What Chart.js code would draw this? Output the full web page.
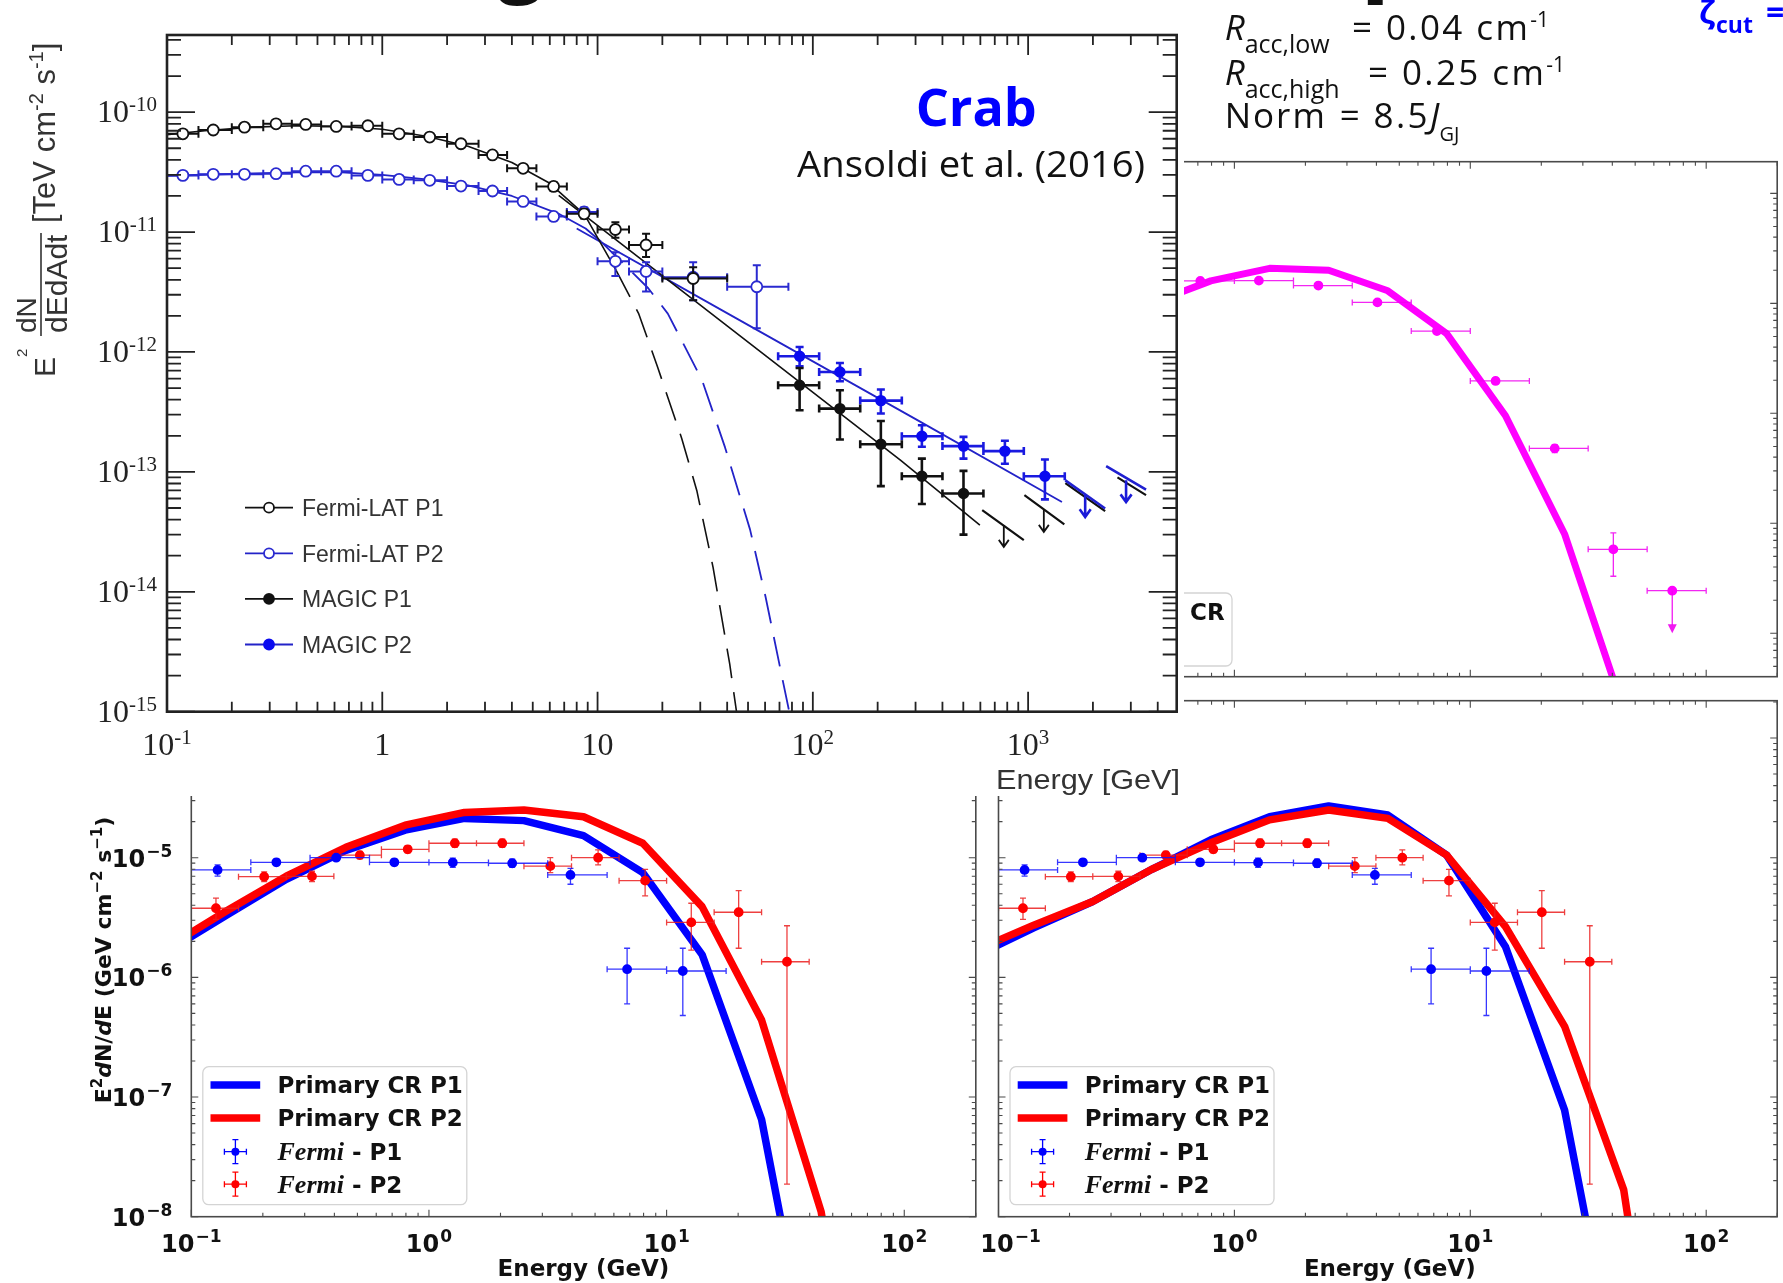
<!DOCTYPE html>
<html lang="en">
<head>
<meta charset="utf-8">
<title>Crab pulsar: measured and modelled gamma-ray spectra</title>
<script src="https://cdn.jsdelivr.net/npm/chart.js@4.4.1/dist/chart.umd.min.js"></script>
<style>
  html, body { margin: 0; padding: 0; background: #fff; }
  body { position: relative; width: 1783px; height: 1283px; overflow: hidden; }
  .panel { position: absolute; }
  .panel canvas { display: block; }
  #crabChart { background: #fff; }
  #labels { position: absolute; left: 0; top: 0; z-index: 3; pointer-events: none; }
</style>
</head>
<body>
<div class="panel" style="left:0;top:690px;z-index:1"><canvas id="leftChart" width="986" height="593"></canvas></div>
<div class="panel" style="left:900px;top:690px;z-index:1"><canvas id="rightChart" width="883" height="593"></canvas></div>
<div class="panel" style="left:900px;top:150px;z-index:1"><canvas id="magentaChart" width="883" height="540"></canvas></div>
<div class="panel" style="left:0;top:0;z-index:2"><canvas id="crabChart" width="1184" height="796"></canvas></div>

<svg id="labels" width="1783" height="1283" viewBox="0 0 1783 1283">
  <g font-family="'Open Sans', sans-serif" font-weight="700" fill="#111">
    <text x="498" y="-13" font-size="80">g</text>
    <text x="1360" y="-19" font-size="100">p</text>
  </g>
  <text x="915.7" y="126" font-family="'Open Sans', sans-serif" font-weight="700" font-size="52" fill="#0000ff">Crab</text>
  <text x="797" y="176.7" font-family="'Open Sans', sans-serif" font-size="37" fill="#111" textLength="348" lengthAdjust="spacingAndGlyphs">Ansoldi et al. (2016)</text>

  <g font-family="'Open Sans', sans-serif" font-size="35" fill="#111">
    <text y="40"><tspan x="1224.7" font-style="italic">R</tspan><tspan font-size="25" dy="13">acc,low</tspan><tspan x="1352" dy="-13" letter-spacing="2.4">= 0.04 cm</tspan><tspan font-size="21" dy="-13">-1</tspan></text>
    <text y="85"><tspan x="1224.7" font-style="italic">R</tspan><tspan font-size="25" dy="13">acc,high</tspan><tspan x="1368" dy="-13" letter-spacing="2.4">= 0.25 cm</tspan><tspan font-size="21" dy="-13">-1</tspan></text>
    <text y="128.3"><tspan x="1224.7" letter-spacing="2">Norm</tspan><tspan x="1339.7" letter-spacing="2.4">= 8.5</tspan><tspan font-style="italic">J</tspan><tspan font-size="20" dy="13">GJ</tspan></text>
  </g>
  <g font-family="'Open Sans', sans-serif" font-weight="700" fill="#0000ff">
    <text x="1699" y="24" font-size="32">ζ</text>
    <text x="1716" y="33" font-size="23">cut</text>
    <text x="1766" y="24" font-size="32">=</text>
  </g>

  <g transform="translate(55,377) rotate(-90)" font-family="'Liberation Sans', Arial, sans-serif" fill="#333">
    <text x="0" y="0" font-size="30">E</text>
    <text x="20" y="-28" font-size="15">2</text>
    <text x="44" y="-19" font-size="28">dN</text>
    <line x1="41" y1="-14" x2="144" y2="-14" stroke="#333" stroke-width="1.6"/>
    <text x="44" y="12" font-size="30">dEdAdt</text>
    <text x="154" y="0" font-size="31">[TeV cm<tspan font-size="20" dy="-12">-2</tspan><tspan dy="12"> s</tspan><tspan font-size="20" dy="-12">-1</tspan><tspan dy="12">]</tspan></text>
  </g>
  <text x="996" y="789" font-family="'Liberation Sans', Arial, sans-serif" font-size="28" fill="#333" textLength="184" lengthAdjust="spacingAndGlyphs">Energy [GeV]</text>

  <g font-family="'DejaVu Sans', sans-serif" font-weight="700" font-size="23" fill="#111" text-anchor="middle">
    <text x="583.5" y="1276">Energy (GeV)</text>
    <text x="1389.8" y="1276">Energy (GeV)</text>
  </g>
  <text transform="translate(111,960) rotate(-90)" text-anchor="middle" font-family="'DejaVu Sans', sans-serif" font-weight="700" font-size="22" fill="#111">E<tspan font-size="15" dy="-9">2</tspan><tspan dy="9" font-style="italic">d</tspan>N/<tspan font-style="italic">d</tspan>E (GeV cm<tspan font-size="15" dy="-9">−2</tspan><tspan dy="9"> s</tspan><tspan font-size="15" dy="-9">−1</tspan><tspan dy="9">)</tspan></text>
</svg>

<script>
// ---------- Crab, Ansoldi et al. (2016): Fermi-LAT + MAGIC, P1 and P2 ----------
const crabXRange = [0.1, 4900];
const crabYRange = [1e-15, 4.4e-10];
const crabXTicks = [0.1, 1, 10, 100, 1000];
const crabXTickLabels = [['10', '-1'], ['1', ''], ['10', ''], ['10', '2'], ['10', '3']];
const crabYTicks = [1e-15, 1e-14, 1e-13, 1e-12, 1e-11, 1e-10];
const crabYTickLabels = [['10', '-15'], ['10', '-14'], ['10', '-13'], ['10', '-12'], ['10', '-11'], ['10', '-10']];
const crabLegend = ['Fermi-LAT P1', 'Fermi-LAT P2', 'MAGIC P1', 'MAGIC P2'];

const fermiEdges = [0.1, 0.14, 0.2, 0.28, 0.38, 0.52, 0.72, 1.0, 1.4, 2.0, 2.8, 3.8, 5.2, 7.2, 10, 14, 20, 40, 77];
const fermiEnergy = [0.1185, 0.164, 0.229, 0.321, 0.441, 0.611, 0.857, 1.197, 1.66, 2.32, 3.25, 4.51, 6.25, 8.66, 12.1, 16.8, 27.8, 54.9];
const fermiP1Flux = [6.6e-11, 7.1e-11, 7.5e-11, 8.0e-11, 7.9e-11, 7.6e-11, 7.7e-11, 6.6e-11, 6.2e-11, 5.45e-11, 4.4e-11, 3.4e-11, 2.4e-11, 1.42e-11, 1.05e-11, 7.8e-12, 4.1e-12];
const fermiP1Low = [6.35e-11, 6.85e-11, 7.25e-11, 7.75e-11, 7.65e-11, 7.35e-11, 7.45e-11, 6.35e-11, 5.95e-11, 5.2e-11, 4.2e-11, 3.2e-11, 2.2e-11, 1.3e-11, 8.97e-12, 6.2e-12, 2.7e-12];
const fermiP1High = [6.85e-11, 7.35e-11, 7.75e-11, 8.25e-11, 8.15e-11, 7.85e-11, 7.95e-11, 6.85e-11, 6.45e-11, 5.7e-11, 4.6e-11, 3.6e-11, 2.6e-11, 1.55e-11, 1.21e-11, 9.7e-12, 5.1e-12];
const fermiP2Flux = [2.97e-11, 3.03e-11, 3.03e-11, 3.07e-11, 3.22e-11, 3.22e-11, 2.97e-11, 2.75e-11, 2.7e-11, 2.42e-11, 2.2e-11, 1.8e-11, 1.35e-11, 1.47e-11, 5.7e-12, 4.7e-12, 4.2e-12, 3.5e-12];
const fermiP2Low = [2.87e-11, 2.93e-11, 2.93e-11, 2.97e-11, 3.11e-11, 3.11e-11, 2.87e-11, 2.65e-11, 2.6e-11, 2.33e-11, 2.1e-11, 1.7e-11, 1.25e-11, 1.35e-11, 4.3e-12, 3.2e-12, 2.7e-12, 1.58e-12];
const fermiP2High = [3.07e-11, 3.13e-11, 3.13e-11, 3.17e-11, 3.33e-11, 3.33e-11, 3.07e-11, 2.85e-11, 2.8e-11, 2.51e-11, 2.3e-11, 1.9e-11, 1.45e-11, 1.6e-11, 6.8e-12, 5.6e-12, 5.6e-12, 5.3e-12];

const magicEdges = [69, 107, 166, 259, 400, 620, 955, 1480];
const magicEnergy = [86.8, 133.6, 207, 321, 501, 780, 1197];
const magicP1Flux = [5.28e-13, 3.37e-13, 1.70e-13, 9.2e-14, 6.6e-14];
const magicP1Low = [3.27e-13, 1.86e-13, 7.6e-14, 5.4e-14, 3.0e-14];
const magicP1High = [7.36e-13, 4.8e-13, 2.66e-13, 1.29e-13, 1.02e-13];
const magicP2Flux = [9.2e-13, 6.8e-13, 3.93e-13, 1.98e-13, 1.64e-13, 1.49e-13, 9.2e-14];
const magicP2Low = [7.6e-13, 5.7e-13, 3.07e-13, 1.62e-13, 1.29e-13, 1.17e-13, 5.9e-14];
const magicP2High = [1.1e-12, 8.1e-13, 4.86e-13, 2.45e-13, 1.96e-13, 1.82e-13, 1.27e-13];

// upper limits: bin [lo, hi], flux at the bin ends, arrows [energy, from, tip]
const ulP1Bins = [[612, 955], [961, 1473], [1489, 2279], [2600, 3530]];
const ulP1Ends = [[4.8e-14, 2.7e-14], [6.4e-14, 3.65e-14], [8.05e-14, 4.7e-14], [9.0e-14, 6.4e-14]];
const ulP1Arrows = [[771, 3.6e-14, 2.37e-14], [1183, 4.8e-14, 3.16e-14]];
const ulP2Bins = [[1489, 2279], [2304, 3530]];
const ulP2Ends = [[8.5e-14, 4.95e-14], [1.115e-13, 7.1e-14]];
const ulP2Arrows = [[1841, 6.4e-14, 4.2e-14], [2851, 8.5e-14, 5.6e-14]];

// fitted curves: exponential cut-off (dashed past the Fermi range) and power laws
const blackCutoffEnergy = [0.1, 0.15, 0.25, 0.4, 0.65, 1.0, 1.6, 2.5, 4.0, 6.0, 8.7, 12.2, 15.5, 19, 24.6, 28.9, 34.4, 41.1, 44.2];
const blackCutoffFlux = [6.5e-11, 7.0e-11, 7.5e-11, 7.7e-11, 7.6e-11, 7.2e-11, 6.3e-11, 5.2e-11, 3.8e-11, 2.55e-11, 1.4e-11, 4.8e-12, 2.1e-12, 7.5e-13, 1.9e-13, 7.0e-14, 1.6e-14, 2.5e-15, 1.0e-15];
const blueCutoffEnergy = [0.1, 0.2, 0.4, 0.65, 1.0, 1.6, 2.5, 4.0, 6.6, 8.8, 10.4, 17.2, 21.2, 30.6, 39.1, 51.1, 60.3, 71.3, 77.7];
const blueCutoffFlux = [2.95e-11, 3.05e-11, 3.15e-11, 3.15e-11, 3.0e-11, 2.75e-11, 2.45e-11, 2.0e-11, 1.42e-11, 1.07e-11, 8.3e-12, 3.4e-12, 2.09e-12, 5.8e-13, 1.6e-13, 3.3e-14, 9.1e-15, 2.1e-15, 1.0e-15];
const blackPowerEnergy = [6.6, 256, 597];
const blackPowerFlux = [2.02e-11, 1.25e-13, 3.6e-14];
const bluePowerEnergy = [8.0, 39, 306, 1436];
const bluePowerFlux = [1.07e-11, 2.16e-12, 2.7e-13, 5.6e-14];

// ---------- model panels (primary CR, P1 / P2) ----------
const panelXRange = [0.1, 200];
const panelYRange = [1e-8, 2.05e-4];
const panelXTicks = [0.1, 1, 10, 100];
const panelXExponents = ['−1', '0', '1', '2'];
const panelYTicks = [1e-8, 1e-7, 1e-6, 1e-5];
const panelYExponents = ['−8', '−7', '−6', '−5'];
const modelLegend = ['Primary CR P1', 'Primary CR P2'];
const dataLegend = [['Fermi', ' - P1'], ['Fermi', ' - P2']];

const modelEnergy = [0.0794, 0.141, 0.251, 0.447, 0.794, 1.41, 2.51, 4.47, 7.94, 14.1, 25.1, 44.7, 79.4];
const leftP1Model = [1.65e-6, 3.32e-6, 6.6e-6, 1.15e-5, 1.7e-5, 2.13e-5, 2.04e-5, 1.53e-5, 7.5e-6, 1.55e-6, 6.5e-8, 1.7e-10, 1e-12];
const leftP2Model = [1.8e-6, 3.6e-6, 7.0e-6, 1.22e-5, 1.87e-5, 2.39e-5, 2.5e-5, 2.2e-5, 1.32e-5, 3.9e-6, 4.4e-7, 1.1e-8, 1e-11];
const rightP1Model = [1.5e-6, 2.59e-6, 4.3e-6, 8.0e-6, 1.41e-5, 2.2e-5, 2.7e-5, 2.27e-5, 1.05e-5, 1.8e-6, 7.8e-8, 2.2e-10, 1e-12];
const rightP2Model = [1.68e-6, 2.73e-6, 4.3e-6, 8.0e-6, 1.33e-5, 2.07e-5, 2.5e-5, 2.13e-5, 1.05e-5, 2.65e-6, 3.9e-7, 1.68e-8, 1e-11];

const lowP1Energy = [0.129, 0.228, 0.407, 0.715, 1.26, 2.24, 3.94, 6.82, 11.7];
const lowP1Flux = [7.9e-6, 9.15e-6, 1.0e-5, 9.15e-6, 9.1e-6, 8.98e-6, 7.17e-6, 1.17e-6, 1.13e-6];
const lowP1BinLo = [0.1, 0.178, 0.316, 0.562, 1.0, 1.78, 3.16, 5.62, 10];
const lowP1BinHi = [0.178, 0.316, 0.562, 1.0, 1.78, 3.16, 5.62, 10, 17.8];
const lowP1Low = [7.0e-6, 8.6e-6, 9.5e-6, 8.6e-6, 8.3e-6, 8.3e-6, 6.0e-6, 6.0e-7, 4.8e-7];
const lowP1High = [8.7e-6, 9.7e-6, 1.05e-5, 9.7e-6, 9.9e-6, 9.7e-6, 8.15e-6, 1.75e-6, 1.75e-6];
const lowP2Energy = [0.127, 0.2026, 0.322, 0.512, 0.814, 1.285, 2.035, 3.24, 5.15, 8.12, 12.7, 20.1, 32.1];
const lowP2Flux = [3.78e-6, 6.94e-6, 6.98e-6, 1.05e-5, 1.175e-5, 1.32e-5, 1.32e-5, 8.5e-6, 1.0e-5, 6.43e-6, 2.88e-6, 3.5e-6, 1.35e-6];
const lowP2BinLo = [0.1, 0.158, 0.251, 0.398, 0.631, 1.0, 1.585, 2.51, 3.98, 6.31, 10, 15.85, 25.1];
const lowP2BinHi = [0.158, 0.251, 0.398, 0.631, 1.0, 1.585, 2.51, 3.98, 6.31, 10, 15.85, 25.1, 39.8];
const lowP2Low = [3.05e-6, 6.3e-6, 6.3e-6, 9.8e-6, 1.1e-5, 1.22e-5, 1.22e-5, 7.5e-6, 8.7e-6, 4.8e-6, 1.69e-6, 1.75e-6, 1.87e-8];
const lowP2High = [4.6e-6, 7.6e-6, 7.7e-6, 1.13e-5, 1.26e-5, 1.43e-5, 1.43e-5, 1.0e-5, 1.16e-5, 8.0e-6, 4.16e-6, 5.3e-6, 2.7e-6];

// ---------- magenta panel (partly hidden behind the Crab figure) ----------
const magentaYRange = [4.03e-9, 1.94e-4];
const magentaModelFlux = [2.0e-6, 3.5e-6, 6.0e-6, 1.0e-5, 1.6e-5, 2.08e-5, 2.0e-5, 1.3e-5, 5.3e-6, 9.5e-7, 8.0e-8, 2.0e-9, 1e-12];
const magentaEnergy = [0.717, 1.27, 2.27, 4.04, 7.22, 12.8, 22.8, 40.4];
const magentaFlux = [1.6e-5, 1.61e-5, 1.45e-5, 1.02e-5, 5.6e-6, 1.97e-6, 4.8e-7, 5.8e-8];
const magentaBinLo = [0.562, 1.0, 1.78, 3.16, 5.62, 10, 17.8, 31.6];
const magentaBinHi = [1.0, 1.78, 3.16, 5.62, 10, 17.8, 31.6, 56.2];
const magentaLow = [1.52e-5, 1.54e-5, 1.39e-5, 9.7e-6, 5.3e-6, 1.85e-6, 4.4e-7, 3.3e-8];
const magentaHigh = [1.68e-5, 1.68e-5, 1.51e-5, 1.07e-5, 5.9e-6, 2.1e-6, 5.2e-7, 8.2e-8];
const magentaUlEnergy = [71.8];
const magentaUlFlux = [2.44e-8];
const magentaUlBin = [[56.2, 100]];
const magentaUlTip = [1.0e-8];

// ---------- helpers ----------
function pts(xs, ys) {
  return xs.map((v, i) => ({ x: v, y: ys[i] }));
}

function segments(bins, ends) {
  const out = [];
  bins.forEach((b, i) => {
    out.push({ x: b[0], y: ends[i][0] }, { x: b[1], y: ends[i][1] }, { x: b[1], y: null });
  });
  return out;
}

function logTicks(min, max) {
  const out = [];
  for (let p = Math.floor(Math.log10(min)); p <= Math.floor(Math.log10(max)); p++) {
    for (let m = 1; m <= 9; m++) {
      const v = m * Math.pow(10, p);
      if (v >= min * 0.999 && v <= max * 1.001) out.push({ v, major: m === 1 });
    }
  }
  return out;
}

function markers(xs, ys, errors, color, fill, radius, barColor, barWidth, cap) {
  return {
    data: pts(xs, ys),
    showLine: false,
    order: 1,
    pointStyle: 'circle',
    pointRadius: radius,
    pointHoverRadius: radius,
    pointBackgroundColor: fill,
    pointBorderColor: color,
    pointBorderWidth: 1.8,
    errors, barColor, barWidth, cap
  };
}

function curve(data, color, width, order, dashFrom) {
  const ds = {
    data,
    borderColor: color,
    borderWidth: width,
    pointRadius: 0,
    pointHoverRadius: 0,
    fill: false,
    tension: 0,
    order,
    borderJoinStyle: 'round'
  };
  if (dashFrom) {
    ds.segment = { borderDash: c => (c.p0.parsed.x >= dashFrom ? [30, 14] : undefined) };
  }
  return ds;
}

function drawPower(ctx, x, y, base, exp, f, align) {
  ctx.font = f.base;
  const wb = ctx.measureText(base).width;
  ctx.font = f.sup;
  const we = exp ? ctx.measureText(exp).width + f.gap : 0;
  const x0 = align === 'right' ? x - wb - we : x - (wb + we) / 2;
  ctx.textAlign = 'left';
  ctx.textBaseline = 'alphabetic';
  ctx.font = f.base;
  ctx.fillText(base, x0, y);
  if (exp) {
    ctx.font = f.sup;
    ctx.fillText(exp, x0 + wb + f.gap, y - f.rise);
  }
}

const errorBars = {
  id: 'errorBars',
  beforeDatasetDraw(chart, args) {
    const ds = chart.data.datasets[args.index];
    if (!ds.errors) return;
    const { ctx, chartArea: a, scales: { x, y } } = chart;
    const e = ds.errors;
    const c = ds.cap;
    ctx.save();
    ctx.beginPath();
    ctx.rect(a.left, a.top, a.right - a.left, a.bottom - a.top);
    ctx.clip();
    ctx.strokeStyle = ds.barColor;
    ctx.lineWidth = ds.barWidth;
    ctx.beginPath();
    ds.data.forEach((p, i) => {
      const px = x.getPixelForValue(p.x);
      const py = y.getPixelForValue(p.y);
      const x0 = x.getPixelForValue(e.xLo[i]);
      const x1 = x.getPixelForValue(e.xHi[i]);
      const y0 = y.getPixelForValue(e.yLo[i]);
      const y1 = y.getPixelForValue(e.yHi[i]);
      ctx.moveTo(x0, py); ctx.lineTo(x1, py);
      ctx.moveTo(x0, py - c); ctx.lineTo(x0, py + c);
      ctx.moveTo(x1, py - c); ctx.lineTo(x1, py + c);
      if (Math.abs(y0 - y1) > 0.5) {
        ctx.moveTo(px, y0); ctx.lineTo(px, y1);
        ctx.moveTo(px - c, y0); ctx.lineTo(px + c, y0);
        ctx.moveTo(px - c, y1); ctx.lineTo(px + c, y1);
      }
    });
    ctx.stroke();
    ctx.restore();
  }
};

function arrowPlugin(sets) {
  return {
    id: 'upperLimits',
    afterDatasetsDraw(chart) {
      const { ctx, scales: { x, y } } = chart;
      sets.forEach(s => {
        ctx.save();
        ctx.strokeStyle = s.color;
        ctx.fillStyle = s.color;
        ctx.lineWidth = s.width;
        s.arrows.forEach(([e, from, tip]) => {
          const px = x.getPixelForValue(e);
          const y0 = y.getPixelForValue(from);
          const y1 = y.getPixelForValue(tip);
          ctx.beginPath();
          if (s.filled) {
            ctx.moveTo(px, y0); ctx.lineTo(px, y1 - 8);
            ctx.stroke();
            ctx.beginPath();
            ctx.moveTo(px - 4.5, y1 - 9); ctx.lineTo(px + 4.5, y1 - 9); ctx.lineTo(px, y1);
            ctx.closePath();
            ctx.fill();
          } else {
            ctx.moveTo(px, y0); ctx.lineTo(px, y1);
            ctx.moveTo(px - s.head, y1 - s.head * 1.4); ctx.lineTo(px, y1); ctx.lineTo(px + s.head, y1 - s.head * 1.4);
            ctx.stroke();
          }
        });
        ctx.restore();
      });
    }
  };
}

function makeChart(id, padding, xRange, yRange, datasets, plugins) {
  return new Chart(document.getElementById(id), {
    type: 'line',
    data: { datasets },
    options: {
      responsive: false,
      animation: false,
      events: [],
      layout: { padding },
      plugins: { legend: { display: false }, tooltip: { enabled: false } },
      scales: {
        x: { type: 'logarithmic', min: xRange[0], max: xRange[1], display: false },
        y: { type: 'logarithmic', min: yRange[0], max: yRange[1], display: false }
      }
    },
    plugins: [errorBars].concat(plugins)
  });
}

// ---------- Crab axes, labels and legend ----------
const crabSerif = { base: '32px "Liberation Serif", "Times New Roman", serif', sup: '21px "Liberation Serif", "Times New Roman", serif', rise: 11, gap: 0 };

const crabAxes = {
  id: 'crabAxes',
  beforeDraw(chart) {
    const { ctx, width, height } = chart;
    ctx.save();
    ctx.fillStyle = '#fff';
    ctx.fillRect(0, 0, width, height);
    ctx.restore();
  },
  afterDraw(chart) {
    const { ctx, chartArea: a, scales: { x, y } } = chart;
    ctx.save();
    ctx.strokeStyle = '#222';
    ctx.lineWidth = 1.8;
    ctx.beginPath();
    logTicks(crabXRange[0], crabXRange[1]).forEach(t => {
      const px = x.getPixelForValue(t.v);
      const l = t.major ? 20 : 10;
      ctx.moveTo(px, a.bottom); ctx.lineTo(px, a.bottom - l);
      ctx.moveTo(px, a.top); ctx.lineTo(px, a.top + l);
    });
    logTicks(crabYRange[0], crabYRange[1]).forEach(t => {
      const py = y.getPixelForValue(t.v);
      const l = t.major ? 28 : 14;
      ctx.moveTo(a.left, py); ctx.lineTo(a.left + l, py);
      ctx.moveTo(a.right, py); ctx.lineTo(a.right - l, py);
    });
    ctx.stroke();
    ctx.lineWidth = 2.6;
    ctx.strokeRect(a.left, a.top, a.right - a.left, a.bottom - a.top);

    ctx.fillStyle = '#222';
    crabXTicks.forEach((v, i) => {
      drawPower(ctx, x.getPixelForValue(v), a.bottom + 43, crabXTickLabels[i][0], crabXTickLabels[i][1], crabSerif, 'center');
    });
    crabYTicks.forEach((v, i) => {
      drawPower(ctx, a.left - 10, y.getPixelForValue(v) + 10, crabYTickLabels[i][0], crabYTickLabels[i][1], crabSerif, 'right');
    });

    // legend
    const lineColors = ['#111', '#2323c8', '#111', '#2323c8'];
    const dotFill = ['#fff', '#fff', '#111', '#0a0af0'];
    const dotEdge = ['#111', '#2a2ad0', '#111', '#0a0af0'];
    crabLegend.forEach((label, i) => {
      const ly = 507.7 + i * 45.6;
      ctx.strokeStyle = lineColors[i];
      ctx.lineWidth = 1.8;
      ctx.beginPath();
      ctx.moveTo(245, ly); ctx.lineTo(293, ly);
      ctx.stroke();
      ctx.beginPath();
      ctx.arc(269, ly, 5, 0, 2 * Math.PI);
      ctx.fillStyle = dotFill[i];
      ctx.fill();
      ctx.strokeStyle = dotEdge[i];
      ctx.stroke();
      ctx.fillStyle = '#333';
      ctx.font = '23px "Liberation Sans", Arial, sans-serif';
      ctx.textAlign = 'left';
      ctx.fillText(label, 302, ly + 8.3);
    });
    ctx.restore();
  }
};

// ---------- matplotlib-style panels ----------
const panelFont = { base: 'bold 24px "DejaVu Sans", sans-serif', sup: 'bold 17px "DejaVu Sans", sans-serif', rise: 10, gap: 1 };

function panelAxes(cfg) {
  return {
    id: 'panelAxes',
    afterDraw(chart) {
      const { ctx, chartArea: a, scales: { x, y } } = chart;
      ctx.save();
      ctx.strokeStyle = '#4a4a4a';
      ctx.lineWidth = 1.1;
      ctx.beginPath();
      logTicks(cfg.xRange[0], cfg.xRange[1]).forEach(t => {
        const px = x.getPixelForValue(t.v);
        const l = t.major ? 7 : 4;
        ctx.moveTo(px, a.bottom); ctx.lineTo(px, a.bottom - l);
        ctx.moveTo(px, a.top); ctx.lineTo(px, a.top + l);
      });
      logTicks(cfg.yRange[0], cfg.yRange[1]).forEach(t => {
        const py = y.getPixelForValue(t.v);
        const l = t.major ? 7 : 4;
        ctx.moveTo(a.left, py); ctx.lineTo(a.left + l, py);
        ctx.moveTo(a.right, py); ctx.lineTo(a.right - l, py);
      });
      ctx.stroke();
      ctx.lineWidth = 1.6;
      ctx.strokeRect(a.left, a.top, a.right - a.left, a.bottom - a.top);

      ctx.fillStyle = '#111';
      if (cfg.xLabels) {
        panelXTicks.forEach((v, i) => {
          const nudge = i === 0 ? (cfg.firstNudge || 0) : 0;
          drawPower(ctx, x.getPixelForValue(v) + nudge, a.bottom + 35, '10', panelXExponents[i], panelFont, 'center');
        });
      }
      if (cfg.yLabels) {
        panelYTicks.forEach((v, i) => drawPower(ctx, a.left - 19, y.getPixelForValue(v) + 9, '10', panelYExponents[i], panelFont, 'right'));
      }
      if (cfg.legend) cfg.legend(ctx, a);
      ctx.restore();
    }
  };
}

function fermiLegend(ctx, a) {
  const left = a.left + 11.5;
  const top = a.bottom - 150;
  ctx.beginPath();
  ctx.roundRect(left, top, 264, 138, 6);
  ctx.fillStyle = 'rgba(255,255,255,0.85)';
  ctx.fill();
  ctx.strokeStyle = '#d4d4d4';
  ctx.lineWidth = 1.3;
  ctx.stroke();
  const colors = ['#0000ff', '#ff0000'];
  ctx.textAlign = 'left';
  modelLegend.forEach((label, i) => {
    const cy = top + 18.3 + i * 33;
    ctx.strokeStyle = colors[i];
    ctx.lineWidth = 7.5;
    ctx.beginPath();
    ctx.moveTo(left + 7.7, cy); ctx.lineTo(left + 57.4, cy);
    ctx.stroke();
    ctx.fillStyle = '#111';
    ctx.font = 'bold 23px "DejaVu Sans", sans-serif';
    ctx.fillText(label, left + 74.7, cy + 8.3);
  });
  dataLegend.forEach((parts, i) => {
    const cy = top + 85 + i * 32.5;
    const mx = left + 32.6;
    ctx.strokeStyle = colors[i];
    ctx.lineWidth = 1.3;
    ctx.beginPath();
    ctx.moveTo(mx - 11, cy); ctx.lineTo(mx + 11, cy);
    ctx.moveTo(mx, cy - 12); ctx.lineTo(mx, cy + 12);
    ctx.moveTo(mx - 11, cy - 3); ctx.lineTo(mx - 11, cy + 3);
    ctx.moveTo(mx + 11, cy - 3); ctx.lineTo(mx + 11, cy + 3);
    ctx.moveTo(mx - 3, cy - 12); ctx.lineTo(mx + 3, cy - 12);
    ctx.moveTo(mx - 3, cy + 12); ctx.lineTo(mx + 3, cy + 12);
    ctx.stroke();
    ctx.fillStyle = colors[i];
    ctx.beginPath();
    ctx.arc(mx, cy, 4, 0, 2 * Math.PI);
    ctx.fill();
    ctx.fillStyle = '#111';
    ctx.font = 'italic bold 26px "Liberation Serif", "Times New Roman", serif';
    ctx.fillText(parts[0], left + 74.7, cy + 8.3);
    const w = ctx.measureText(parts[0]).width;
    ctx.font = 'bold 23px "DejaVu Sans", sans-serif';
    ctx.fillText(parts[1], left + 74.7 + w, cy + 8.3);
  });
}

function magentaLegend(ctx) {
  ctx.beginPath();
  ctx.roundRect(160, 443, 172, 73, 6);
  ctx.fillStyle = 'rgba(255,255,255,0.85)';
  ctx.fill();
  ctx.strokeStyle = '#d4d4d4';
  ctx.lineWidth = 1.3;
  ctx.stroke();
  ctx.fillStyle = '#111';
  ctx.font = 'bold 23px "DejaVu Sans", sans-serif';
  ctx.textAlign = 'right';
  ctx.fillText('Primary CR', 324.7, 470);
}

// ---------- build the four panels ----------
function fermiPoints() {
  return [
    markers(lowP1Energy, lowP1Flux, { xLo: lowP1BinLo, xHi: lowP1BinHi, yLo: lowP1Low, yHi: lowP1High }, '#0000ff', '#0000ff', 4, 'rgba(20,20,255,0.85)', 1.3, 3),
    markers(lowP2Energy, lowP2Flux, { xLo: lowP2BinLo, xHi: lowP2BinHi, yLo: lowP2Low, yHi: lowP2High }, '#ff0000', '#ff0000', 4, 'rgba(235,30,30,0.85)', 1.3, 3)
  ];
}

makeChart('leftChart', { left: 191.3, top: 10.7, right: 10.2, bottom: 66.3 }, panelXRange, panelYRange,
  fermiPoints().concat([
    curve(pts(modelEnergy, leftP2Model), '#ff0000', 7.5, 3),
    curve(pts(modelEnergy, leftP1Model), '#0000ff', 7.5, 4)
  ]),
  [panelAxes({ xRange: panelXRange, yRange: panelYRange, xLabels: true, yLabels: true, legend: fermiLegend })]);

makeChart('rightChart', { left: 98.5, top: 10.7, right: 2, bottom: 66.3 }, panelXRange, panelYRange,
  fermiPoints().concat([
    curve(pts(modelEnergy, rightP2Model), '#ff0000', 7.5, 3),
    curve(pts(modelEnergy, rightP1Model), '#0000ff', 7.5, 4)
  ]),
  [panelAxes({ xRange: panelXRange, yRange: panelYRange, xLabels: true, yLabels: false, firstNudge: 12, legend: fermiLegend })]);

makeChart('magentaChart', { left: 98.5, top: 11.7, right: 2, bottom: 13.3 }, panelXRange, magentaYRange,
  [
    markers(magentaEnergy, magentaFlux, { xLo: magentaBinLo, xHi: magentaBinHi, yLo: magentaLow, yHi: magentaHigh }, '#ff00ff', '#ff00ff', 4, 'rgba(240,0,240,0.85)', 1.3, 3),
    markers(magentaUlEnergy, magentaUlFlux, { xLo: magentaUlBin.map(b => b[0]), xHi: magentaUlBin.map(b => b[1]), yLo: magentaUlFlux, yHi: magentaUlFlux }, '#ff00ff', '#ff00ff', 4, 'rgba(240,0,240,0.85)', 1.3, 3),
    curve(pts(modelEnergy, magentaModelFlux), '#ff00ff', 7, 3)
  ],
  [
    arrowPlugin([{ arrows: magentaUlEnergy.map((e, i) => [e, magentaUlFlux[i], magentaUlTip[i]]), color: 'rgba(240,0,240,0.9)', width: 1.3, filled: true }]),
    panelAxes({ xRange: panelXRange, yRange: magentaYRange, xLabels: false, yLabels: false, legend: magentaLegend })
  ]);

makeChart('crabChart', { left: 167, top: 35, right: 3.5, bottom: 84.3 }, crabXRange, crabYRange,
  [
    markers(fermiEnergy.slice(0, 17), fermiP1Flux, { xLo: fermiEdges.slice(0, 17), xHi: fermiEdges.slice(1, 18), yLo: fermiP1Low, yHi: fermiP1High }, '#111', '#fff', 5.5, '#111', 2, 4),
    markers(fermiEnergy, fermiP2Flux, { xLo: fermiEdges.slice(0, 18), xHi: fermiEdges.slice(1, 19), yLo: fermiP2Low, yHi: fermiP2High }, '#2a2ad0', '#fff', 5.5, '#2a2ad0', 2, 4),
    markers(magicEnergy.slice(0, 5), magicP1Flux, { xLo: magicEdges.slice(0, 5), xHi: magicEdges.slice(1, 6), yLo: magicP1Low, yHi: magicP1High }, '#111', '#111', 4.8, '#111', 2.6, 4),
    markers(magicEnergy, magicP2Flux, { xLo: magicEdges.slice(0, 7), xHi: magicEdges.slice(1, 8), yLo: magicP2Low, yHi: magicP2High }, '#0a0af0', '#0a0af0', 4.8, '#1a1ae0', 2.6, 4),
    curve(pts(blackCutoffEnergy, blackCutoffFlux), '#111', 1.6, 3, 12.2),
    curve(pts(blueCutoffEnergy, blueCutoffFlux), '#2323c8', 1.8, 3, 10.4),
    curve(pts(blackPowerEnergy, blackPowerFlux), '#111', 1.6, 3),
    curve(pts(bluePowerEnergy, bluePowerFlux), '#2323c8', 1.8, 3),
    curve(segments(ulP1Bins, ulP1Ends), '#111', 2.2, 5),
    curve(segments(ulP2Bins, ulP2Ends), '#2020d0', 2.6, 4)
  ],
  [
    arrowPlugin([
      { arrows: ulP1Arrows, color: '#111', width: 1.8, head: 5 },
      { arrows: ulP2Arrows, color: '#1a1ad8', width: 2.6, head: 5.5 }
    ]),
    crabAxes
  ]);
</script>
</body>
</html>
